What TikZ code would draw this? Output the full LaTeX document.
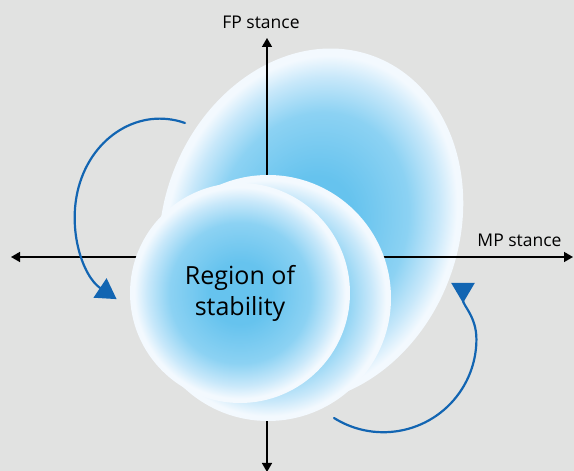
\documentclass[tikz,border=0pt]{standalone}
\usepackage{fontspec}
\setmainfont{Open Sans}
\usepackage{xcolor}
\definecolor{backdrop}{RGB}{225, 226, 225}
\definecolor{bubblecore}{RGB}{102, 195, 238}
\definecolor{bubblemid}{RGB}{140, 210, 243}
\definecolor{bubblepale}{RGB}{200, 232, 250}
\definecolor{bubblerim}{RGB}{243, 249, 254}
\definecolor{cycleblue}{RGB}{18, 101, 178}
\usepackage{tikz}
\usetikzlibrary{
  arrows.meta,
  positioning,
  shapes.geometric
}
\pgfdeclareradialshading{bubble}{\pgfpointorigin}{color(0bp)=(bubblecore); color(7bp)=(bubblecore); color(16bp)=(bubblemid); color(21bp)=(bubblepale); color(24bp)=(bubblerim); color(50bp)=(bubblerim)}

\tikzset{
  axis/.style={line width=1.5pt, {Triangle[length=9pt,width=10pt]}-{Triangle[length=9pt,width=10pt]}},
  axislabel/.style={font=\fontsize{17.5}{21}\selectfont, inner sep=0pt},
  bubblenode/.style={circle, shade, shading=bubble, inner sep=0pt},
  cyclearrow/.style={draw=cycleblue, line width=2.2pt, line cap=round}
}

\begin{document}
\begin{tikzpicture}[x=1pt, y=1pt]
\useasboundingbox (0,0) rectangle (574,471);
\fill[backdrop] (0,0) rectangle (574,471);

\begin{scope}[transform canvas={rotate around={-20:(311,245)}}]
  \shade[shading=bubble] (311,245) ellipse [x radius=148, y radius=181];
\end{scope}

\coordinate (west) at (11,214);
\coordinate (east) at (573,214);
\coordinate (south) at (267,-1);
\coordinate (north) at (267,433);
\draw[axis] (west) -- (east);
\draw[axis] (south) -- (north);

\node[bubblenode, minimum size=246pt] (wake) at (268,173) {};
\node[bubblenode, minimum size=220pt, align=center,
      font=\fontsize{25}{31}\selectfont] (stable) at (240,178) {Region of\\stability};

\node[axislabel, anchor=base] (fplabel) at (261,442) {FP stance};
\node[axislabel, anchor=base] (mplabel) at (519.5,224.5) {MP stance};

\coordinate (ccwtail) at (185,348);
\draw[cyclearrow, -{Triangle[length=20pt,width=23pt]}]
  (ccwtail) arc[start angle=72.8, end angle=239.4, x radius=85, y radius=97];

\coordinate (cwtail) at (334,53);
\coordinate (cwhead) at (463,188);
\draw[cyclearrow, -{Triangle[length=20pt,width=23pt,reversed]}]
  (cwtail) arc[start angle=237.9, end angle=360, radius=93] to[out=90, in=-90] (cwhead);
\end{tikzpicture}
\end{document}
